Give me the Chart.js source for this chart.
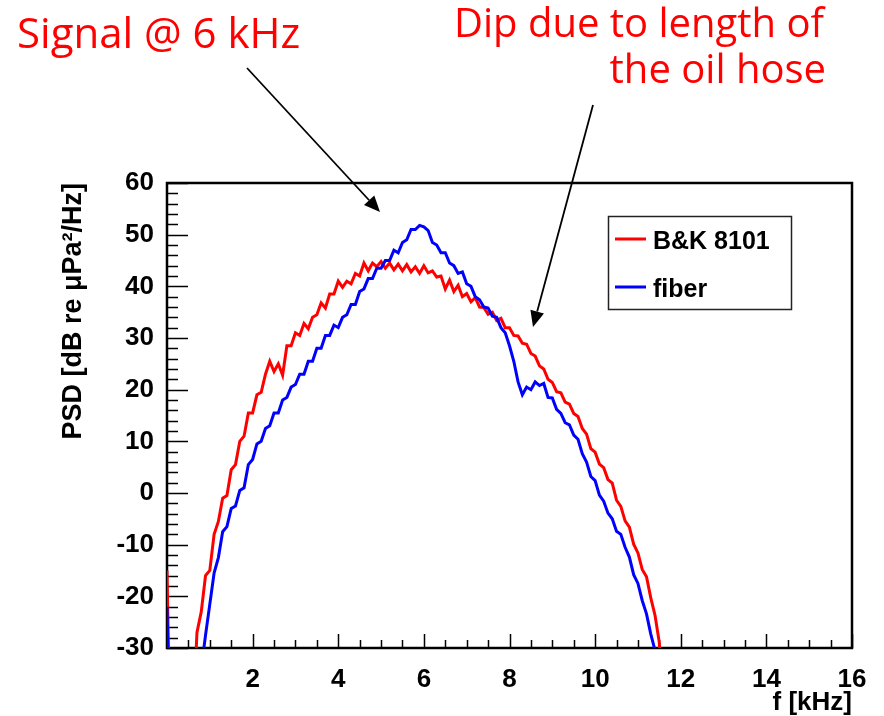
<!DOCTYPE html>
<html>
<head>
<meta charset="utf-8">
<script src="https://cdn.jsdelivr.net/npm/chart.js@4"></script>
<style>
  html, body { margin: 0; padding: 0; background: #fff; }
  #wrap { width: 884px; height: 716px; }
</style>
</head>
<body>
<div id="wrap"><canvas id="psdChart" width="884" height="716"></canvas></div>
<script>
// frequency bins every 0.1 kHz starting at 0
const binStep = 0.1;

// B&K 8101 hydrophone, PSD in dB re uPa^2/Hz
const bkValues = [
  -15, -60, -60, -60, -60, -60, -45, -27, -23, -16,
  -15, -8, -5.5, -1, -0.5, 4.5, 5.5, 10, 11, 15.5,
  15.5, 19, 19.5, 23, 25.5, 23.5, 25, 22.8, 28.5, 28.5,
  31, 30.5, 32.8, 31.8, 34, 34.5, 36.8, 35.8, 38.5, 38.5,
  41, 39.8, 41, 40.5, 42.5, 42, 44.5, 43, 44.5, 43.8,
  44.8, 43.5, 44.5, 43.2, 44.3, 43, 44.2, 42.8, 43.8, 42.5,
  44, 42.6, 43, 41.8, 42, 39.5, 41.2, 39, 40.2, 38,
  38.6, 37, 37.8, 36, 35.9, 34.6, 35, 33.4, 33.8, 32,
  32, 30.5, 30.4, 29, 28.8, 27, 26.5, 24.6, 24, 22,
  21.4, 19.6, 19.4, 17.6, 17.2, 15.4, 14.8, 12.5, 11.4, 8.6,
  7.9, 5.6, 4.9, 2.6, 1.9, -1.4, -2.6, -5.4, -6.6, -9.9,
  -11.6, -14.8, -16.2, -20.3, -23.7, -29, -45, -60, -60
];

// fiber sensor
const fiberValues = [
  -22, -60, -60, -60, -60, -60, -60, -45, -34, -27.5,
  -21.5, -15.5, -12.5, -7.5, -6.5, -3, -2.5, 0.5, 1, 5.5,
  6.5, 9.5, 10, 12.5, 13, 15.5, 15.5, 18, 18.5, 20.5,
  21, 23, 23, 25.5, 25.5, 28, 28, 30.5, 30.5, 32.5,
  32, 34, 34.5, 36.5, 36.5, 39, 39.5, 41.5, 41.5, 43.5,
  43.5, 45, 45, 47, 46.5, 48.5, 49, 51, 51, 51.8,
  51.5, 50.8, 48.5, 48, 46.5, 46.5, 44.5, 44, 42.5, 42.8,
  40.5, 40, 38, 37.4, 36, 35.8, 34.2, 34, 32, 31,
  28.5, 25.5, 21.5, 19, 20.5, 20, 21.5, 20.8, 21.2, 18.5,
  18.4, 16.2, 15.4, 13.6, 13.2, 11.2, 10.4, 7.6, 6, 3.2,
  2.4, -0.4, -1.6, -3.9, -5, -7.4, -8, -10.5, -12.4, -15.8,
  -17.5, -20.8, -23.4, -27.3, -30.5, -50, -60, -60, -60
];

const seriesNames = ["B&K 8101", "fiber"];
const seriesColors = ["#ff0000", "#0000ff"];
const xTickValues = [2, 4, 6, 8, 10, 12, 14, 16];

function toPoints(values) {
  return values.map(function (v, i) {
    return { x: Math.round(i * binStep * 10) / 10, y: v };
  });
}

const axisFont = "'Liberation Sans', Arial, sans-serif";
const noteFont = "'Open Sans', 'DejaVu Sans', sans-serif";

// ROOT style frame and tick marks, drawn under the curves
const frameTicks = {
  id: "frameTicks",
  beforeDatasetsDraw(chart) {
    const ctx = chart.ctx;
    const area = chart.chartArea;
    const xs = chart.scales.x;
    const ys = chart.scales.y;
    ctx.save();
    ctx.strokeStyle = "#000";
    ctx.lineWidth = 1.5;
    ctx.beginPath();
    // x ticks every 0.5, major every 2
    for (let k = 0; k <= 32; k++) {
      const px = Math.round(xs.getPixelForValue(k * 0.5)) + 0.5;
      const len = k % 4 === 0 ? 14 : 8;
      ctx.moveTo(px, area.bottom);
      ctx.lineTo(px, area.bottom - len);
    }
    // y ticks every 2, major every 10
    for (let v = -30; v <= 60; v += 2) {
      const py = Math.round(ys.getPixelForValue(v)) + 0.5;
      const len = v % 10 === 0 ? 21 : 11;
      ctx.moveTo(area.left, py);
      ctx.lineTo(area.left + len, py);
    }
    ctx.stroke();
    ctx.lineWidth = 2.5;
    ctx.strokeRect(area.left, area.top, area.right - area.left, area.bottom - area.top);
    ctx.restore();
  }
};

// legend box and the red notes with arrows
const notes = {
  id: "notes",
  afterDraw(chart) {
    const ctx = chart.ctx;
    ctx.save();
    const lx = 608, ly = 216, lw = 183, lh = 93;
    ctx.fillStyle = "#fff";
    ctx.fillRect(lx, ly, lw, lh);
    ctx.lineWidth = 1.5;
    ctx.strokeStyle = "#222";
    ctx.strokeRect(lx + 0.5, ly + 0.5, lw, lh);
    ctx.font = "bold 25px " + axisFont;
    ctx.textBaseline = "alphabetic";
    ctx.textAlign = "left";
    seriesNames.forEach(function (name, i) {
      const yy = ly + 23 + i * 48;
      ctx.strokeStyle = seriesColors[i];
      ctx.lineWidth = 3;
      ctx.beginPath();
      ctx.moveTo(615, yy);
      ctx.lineTo(646, yy);
      ctx.stroke();
      ctx.fillStyle = "#000";
      ctx.fillText(name, 653, yy + 10);
    });

    ctx.fillStyle = "#ff0000";
    ctx.font = "42px " + noteFont;
    ctx.textAlign = "left";
    ctx.fillText("Signal @ 6 kHz", 17, 48);
    ctx.font = "40px " + noteFont;
    ctx.textAlign = "right";
    ctx.fillText("Dip due to length of", 824, 37);
    ctx.fillText("the oil hose", 826, 83);

    drawArrow(ctx, 247, 68, 380, 212);
    drawArrow(ctx, 593, 105, 533, 327);
    ctx.restore();
  }
};

function drawArrow(ctx, x1, y1, x2, y2) {
  const ang = Math.atan2(y2 - y1, x2 - x1);
  const head = 16, half = 7;
  const bx = x2 - head * Math.cos(ang);
  const by = y2 - head * Math.sin(ang);
  ctx.strokeStyle = "#000";
  ctx.fillStyle = "#000";
  ctx.lineWidth = 1.8;
  ctx.beginPath();
  ctx.moveTo(x1, y1);
  ctx.lineTo(bx, by);
  ctx.stroke();
  ctx.beginPath();
  ctx.moveTo(x2, y2);
  ctx.lineTo(bx - half * Math.sin(ang), by + half * Math.cos(ang));
  ctx.lineTo(bx + half * Math.sin(ang), by - half * Math.cos(ang));
  ctx.closePath();
  ctx.fill();
}

const chart = new Chart(document.getElementById("psdChart"), {
  type: "line",
  data: {
    datasets: [
      {
        label: seriesNames[0],
        data: toPoints(bkValues),
        borderColor: seriesColors[0],
        borderWidth: 3,
        pointRadius: 0,
        tension: 0,
        order: 2,
      },
      {
        label: seriesNames[1],
        data: toPoints(fiberValues),
        borderColor: seriesColors[1],
        borderWidth: 3,
        pointRadius: 0,
        tension: 0,
        order: 1,
      },
    ],
  },
  options: {
    responsive: false,
    animation: false,
    devicePixelRatio: 1,
    layout: { padding: { left: 0, top: 183, right: 32, bottom: 0 } },
    plugins: {
      legend: { display: false },
      tooltip: { enabled: false },
    },
    scales: {
      x: {
        type: "linear",
        min: 0,
        max: 16,
        afterFit: function (s) { s.height = 68; },
        afterBuildTicks: function (s) {
          s.ticks = xTickValues.map(function (v) { return { value: v }; });
        },
        grid: { display: false },
        border: { display: false },
        ticks: {
          padding: 8,
          color: "#000",
          maxRotation: 0,
          font: { family: axisFont, size: 26, weight: "bold" },
        },
        title: {
          display: true,
          text: "f [kHz]",
          align: "end",
          color: "#000",
          padding: { top: 0, bottom: 0 },
          font: { family: axisFont, size: 26, weight: "bold", lineHeight: 1 },
        },
      },
      y: {
        min: -30,
        max: 60,
        afterFit: function (s) { s.width = 167; },
        grid: { display: false },
        border: { display: false },
        ticks: {
          stepSize: 10,
          padding: 5,
          color: "#000",
          font: { family: axisFont, size: 26, weight: "bold" },
        },
        title: {
          display: true,
          text: "PSD [dB re \u03bcPa\u00b2/Hz]",
          align: "end",
          color: "#000",
          padding: { top: 60, bottom: 0 },
          font: { family: axisFont, size: 27, weight: "bold", lineHeight: 1 },
        },
      },
    },
  },
  plugins: [frameTicks, notes],
});
</script>
</body>
</html>
